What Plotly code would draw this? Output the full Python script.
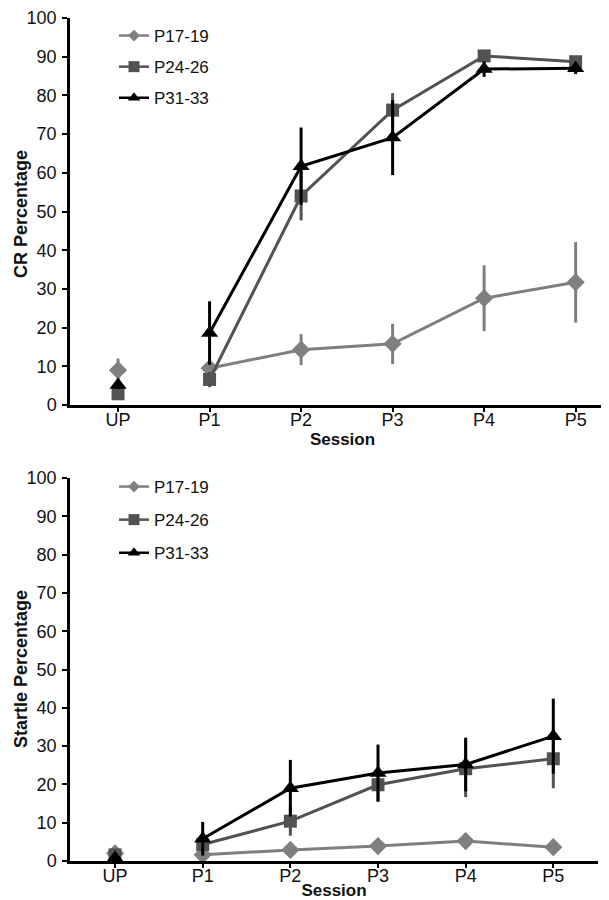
import plotly.graph_objects as go

sessions = ["UP", "P1", "P2", "P3", "P4", "P5"]
groups = ["P17-19", "P24-26", "P31-33"]
y_titles = ["CR Percentage", "Startle Percentage"]

# CR percentage (top panel)
cr_p17 = [9.0, 9.5, 14.3, 15.8, 27.6, 31.7]
cr_p17_err = [3.0, 1.0, 4.0, 5.2, 8.5, 10.4]
cr_p24 = [2.9, 6.6, 54.0, 76.2, 90.2, 88.7]
cr_p24_err = [1.0, 2.0, 6.3, 4.4, 1.0, 1.0]
cr_p31 = [5.2, 18.6, 61.7, 69.1, 86.8, 87.0]
cr_p31_err = [1.0, 8.2, 10.0, 9.7, 2.0, 1.5]

# Startle percentage (bottom panel)
st_p17 = [2.0, 1.6, 2.9, 3.9, 5.2, 3.6]
st_p17_err = [0.6, 0.8, 1.0, 1.0, 2.0, 2.0]
st_p24 = [1.6, 4.3, 10.4, 19.9, 24.1, 26.7]
st_p24_err = [0.6, 1.5, 3.8, 4.5, 7.4, 7.7]
st_p31 = [0.8, 5.8, 19.0, 23.0, 25.2, 32.6]
st_p31_err = [0.6, 4.4, 7.4, 7.4, 7.0, 9.8]

colors = ["#7f7f7f", "#525252", "#000000"]
symbols = ["diamond", "square", "triangle-up"]
sizes = [14, 13, 15]
legend_sizes = [9, 11, 11]

FONT = "Liberation Sans, Arial, sans-serif"
W, H = 609, 900

fig = go.Figure()

panels = [
    ("x", "y", "legend", [cr_p17, cr_p24, cr_p31], [cr_p17_err, cr_p24_err, cr_p31_err]),
    ("x2", "y2", "legend2", [st_p17, st_p24, st_p31], [st_p17_err, st_p24_err, st_p31_err]),
]

for xa, ya, leg, vals, errs in panels:
    for i, g in enumerate(groups):
        v, e = vals[i], errs[i]
        common = dict(
            xaxis=xa, yaxis=ya, showlegend=False, cliponaxis=False,
            marker=dict(symbol=symbols[i], size=sizes[i], color=colors[i],
                        line=dict(width=0)),
            line=dict(color=colors[i], width=3),
        )
        # UP point (not connected)
        fig.add_trace(go.Scatter(
            x=sessions[:1], y=v[:1], mode="markers",
            error_y=dict(type="data", array=e[:1], visible=True,
                         color=colors[i], thickness=3, width=0),
            **common))
        # P1-P5 connected
        fig.add_trace(go.Scatter(
            x=sessions[1:], y=v[1:], mode="lines+markers",
            error_y=dict(type="data", array=e[1:], visible=True,
                         color=colors[i], thickness=3, width=0),
            **common))
        # legend entry
        fig.add_trace(go.Scatter(
            x=[None], y=[None], mode="lines+markers", name=g,
            xaxis=xa, yaxis=ya, legend=leg, legendgroup=leg + g,
            showlegend=True,
            marker=dict(symbol=symbols[i], size=legend_sizes[i], color=colors[i]),
            line=dict(color=colors[i], width=2.5),
        ))

def px_x(p):
    return p / W

def px_y(p):
    return 1 - p / H

axis_font = dict(family=FONT, size=18, color="#111111")
title_font = dict(family=FONT, size=17, color="#111111", weight="bold")
ytitle_font = dict(family=FONT, size=18, color="#111111", weight="bold")

xcommon = dict(
    type="category", categoryorder="array", categoryarray=sessions,
    showline=True, linecolor="black", linewidth=3, ticks="outside",
    ticklen=4, tickwidth=2, tickcolor="black", showgrid=False, zeroline=False,
    tickfont=axis_font, automargin=False, ticklabelstandoff=-8,
    title=dict(text="<b>Session</b>", font=title_font, standoff=0),
)
ycommon = dict(
    range=[0, 100], dtick=10, showline=True, linecolor="black", linewidth=2.5,
    ticks="outside", ticklen=5, tickwidth=2, tickcolor="black",
    showgrid=False, zeroline=False, tickfont=axis_font, automargin=False,
    ticklabelstandoff=2,
)

fig.update_layout(
    width=W, height=H,
    margin=dict(l=0, r=0, t=0, b=0),
    paper_bgcolor="white", plot_bgcolor="white",
    font=dict(family=FONT, size=17, color="#111111"),
    xaxis=dict(domain=[px_x(62), px_x(607)], range=[-0.525, 5.43],
               anchor="y", **xcommon),
    yaxis=dict(domain=[px_y(397), px_y(10)], anchor="x", **ycommon),
    xaxis2=dict(domain=[px_x(62), px_x(590)], range=[-0.514, 5.51],
                anchor="y2", **xcommon),
    yaxis2=dict(domain=[px_y(853), px_y(470)], anchor="x2", **ycommon),
    legend=dict(x=px_x(106), y=px_y(10), xanchor="left", yanchor="top",
                bgcolor="rgba(0,0,0,0)", font=dict(family=FONT, size=17, color="#111111"),
                tracegroupgap=6, traceorder="grouped"),
    legend2=dict(x=px_x(106), y=px_y(461), xanchor="left", yanchor="top",
                 bgcolor="rgba(0,0,0,0)", font=dict(family=FONT, size=17, color="#111111"),
                 tracegroupgap=8, traceorder="grouped"),
)

for text, yc in zip(y_titles, [206, 661]):
    fig.add_annotation(
        text="<b>" + text + "</b>", textangle=-90,
        xref="paper", yref="paper", x=px_x(1), y=px_y(yc),
        xanchor="left", yanchor="middle", showarrow=False,
        font=ytitle_font,
    )

fig.write_html("out.html")
